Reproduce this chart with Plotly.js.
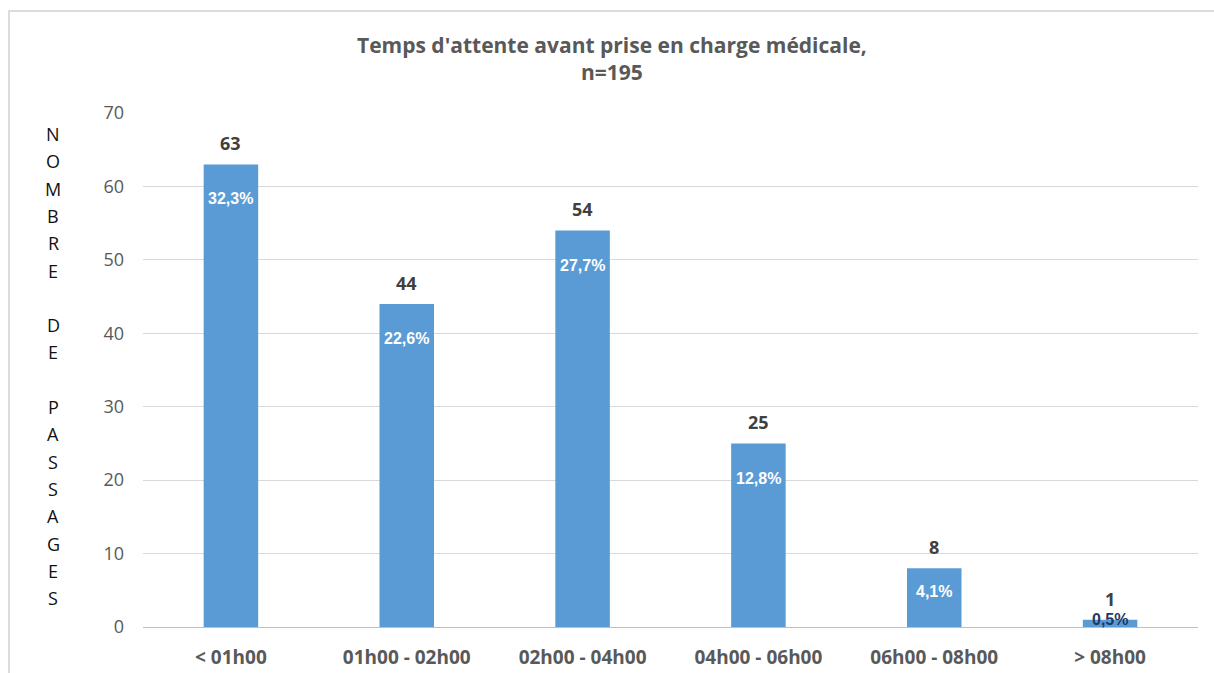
<!DOCTYPE html>
<html>
<head>
<meta charset="utf-8">
<script src="https://cdn.plot.ly/plotly-3.0.1.min.js"></script>
<style>
  html, body { margin: 0; padding: 0; background: #ffffff; }
  #frame { position: absolute; left: 8px; top: 10px; width: 1220px; height: 680px;
           border-left: 2px solid #dcdcdc; border-top: 2px solid #dcdcdc; box-sizing: border-box; }
  #chart { position: absolute; left: 0; top: 0; width: 1214px; height: 673px; }
</style>
</head>
<body>
<div id="frame"></div>
<div id="chart"></div>
<script>
const categories = ["< 01h00", "01h00 - 02h00", "02h00 - 04h00", "04h00 - 06h00", "06h00 - 08h00", "> 08h00"];
const counts = [63, 44, 54, 25, 8, 1];
const percentLabels = ["32,3%", "22,6%", "27,7%", "12,8%", "4,1%", "0,5%"];
const yTitle = "NOMBRE DE PASSAGES";
const titleText = "Temps d'attente avant prise en charge médicale,<br>n=195";

const FONT = "Open Sans, Liberation Sans, sans-serif";

const trace = {
  type: "bar",
  x: categories,
  y: counts,
  marker: { color: "#5b9bd5" },
  hoverinfo: "x+y",
  cliponaxis: false
};

const annotations = [];
// chart title
annotations.push({
  xref: "paper", yref: "paper",
  x: (612 - 143) / 1055, y: (627 - 59) / 514,
  xanchor: "center", yanchor: "middle",
  text: "<b>" + titleText + "</b>", showarrow: false,
  font: { family: FONT, size: 21, color: "#595959" }
});
// value labels above bars
categories.forEach((c, i) => {
  annotations.push({
    x: c, y: counts[i], xref: "x", yref: "y",
    text: "<b>" + counts[i] + "</b>", showarrow: false,
    yanchor: "middle", yshift: 21,
    font: { family: FONT, size: 18, color: "#404040" }
  });
});
// percentage labels inside bars
const pctShift = [-34, -35, -35, -35, -23, 0];
categories.forEach((c, i) => {
  annotations.push({
    x: c, y: counts[i], xref: "x", yref: "y",
    text: "<b>" + percentLabels[i] + "</b>", showarrow: false,
    yanchor: "middle", yshift: pctShift[i],
    font: { family: "Liberation Sans, Arial, sans-serif", size: 16,
            color: i === categories.length - 1 ? "#1f3864" : "#ffffff" }
  });
});
// vertical stacked y-axis title (one letter per line)
const letters = yTitle.split("");
const top0 = 134, step = 27.3, plotH = 514;
letters.forEach((ch, i) => {
  if (ch === " ") return;
  const py = top0 + i * step;
  annotations.push({
    xref: "paper", yref: "paper",
    x: (53 - 143) / 1055, y: (627 - py) / plotH,
    text: ch, showarrow: false, xanchor: "center", yanchor: "middle",
    font: { family: FONT, size: 18, color: "#111111" }
  });
});

const layout = {
  width: 1214, height: 673,
  paper_bgcolor: "rgba(0,0,0,0)",
  plot_bgcolor: "rgba(0,0,0,0)",
  margin: { l: 143, r: 16, t: 113, b: 46 },
  showlegend: false,
  bargap: 0.69,
  xaxis: {
    type: "category",
    showgrid: false,
    showline: true, linecolor: "#bfbfbf", linewidth: 1,
    ticks: "",
    tickfont: { family: FONT, size: 19, color: "#595959", weight: "bold" },
    ticklabelstandoff: 13
  },
  yaxis: {
    range: [0, 70],
    dtick: 10,
    showgrid: true, gridcolor: "#d9d9d9", gridwidth: 1,
    zeroline: false,
    showline: false,
    ticks: "",
    tickfont: { family: FONT, size: 18, color: "#595959" },
    ticklabelstandoff: 18
  },
  annotations: annotations
};

Plotly.newPlot("chart", [trace], layout, { displayModeBar: false, staticPlot: true });
</script>
</body>
</html>
